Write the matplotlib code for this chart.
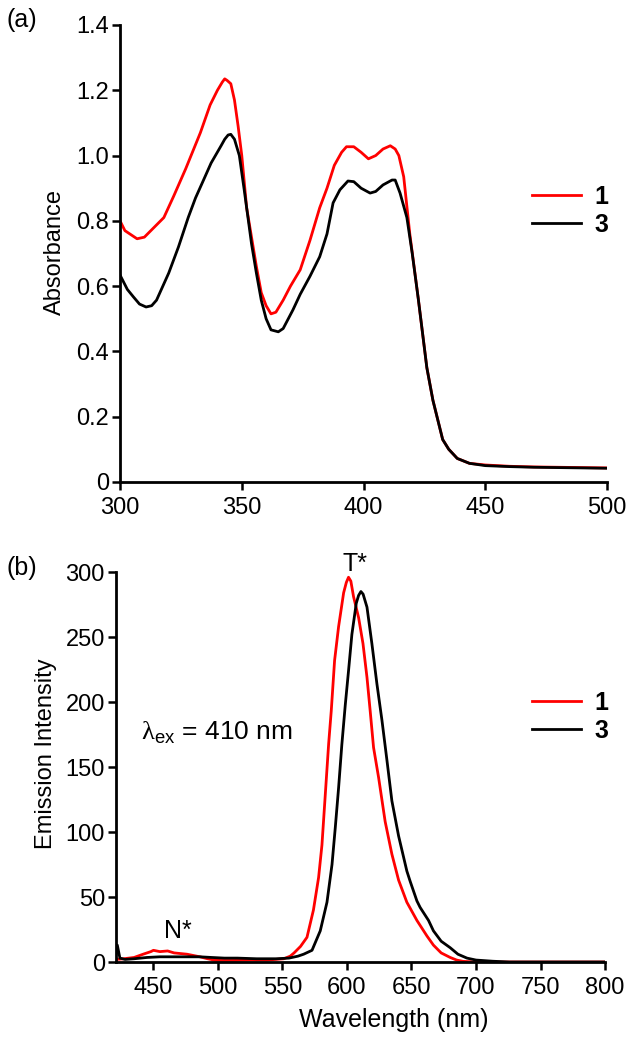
import matplotlib
matplotlib.use("Agg")
import matplotlib.pyplot as plt
from matplotlib.ticker import FuncFormatter

plt.rcParams['font.family'] = ['Liberation Sans', 'DejaVu Sans']
plt.rcParams['mathtext.fontset'] = 'custom'
plt.rcParams['mathtext.rm'] = 'Liberation Serif'
plt.rcParams['mathtext.sf'] = 'Liberation Sans'

# (a) absorption spectra
abs_wl_1 = [300, 302, 305, 307, 310, 314, 318, 322, 327, 333, 337, 340, 342, 343, 344,
            345.5, 347, 348.5, 350, 352, 354, 356, 358, 360, 362, 364, 367, 370, 374, 378,
            382, 385, 388, 391, 393, 396, 399, 402, 405, 408, 411, 413, 414.5, 416.5, 419,
            422.5, 426, 428.5, 432.5, 435, 438.5, 443.5, 450, 460, 470, 480, 490, 500]
abs_1 = [0.80, 0.77, 0.755, 0.745, 0.75, 0.78, 0.81, 0.875, 0.96, 1.07, 1.155, 1.20, 1.225,
         1.235, 1.23, 1.22, 1.17, 1.09, 1.00, 0.84, 0.75, 0.66, 0.58, 0.54, 0.515, 0.52,
         0.557, 0.60, 0.65, 0.74, 0.84, 0.90, 0.97, 1.01, 1.027, 1.027, 1.01, 0.99, 1.00,
         1.02, 1.03, 1.02, 1.00, 0.935, 0.76, 0.56, 0.35, 0.25, 0.13, 0.10, 0.072, 0.057,
         0.052, 0.048, 0.046, 0.045, 0.044, 0.043]

abs_wl_3 = [300, 303, 305.5, 308, 310.7, 313, 315, 320, 324, 328, 331, 334, 337.4, 341.5,
            343, 344.4, 345.5, 347, 349, 351, 354, 356, 358, 360, 362, 365, 367, 371, 374,
            378, 382, 385, 387.5, 390.3, 393.6, 396, 399, 402.7, 405, 408, 411.7, 413, 415,
            417.8, 420, 422.5, 426, 428.5, 432.5, 435, 438.5, 443.5, 450, 460, 470, 480,
            490, 500]
abs_3 = [0.634, 0.59, 0.567, 0.545, 0.536, 0.54, 0.557, 0.64, 0.72, 0.81, 0.87, 0.92, 0.977,
         1.03, 1.05, 1.063, 1.065, 1.05, 1.00, 0.895, 0.73, 0.64, 0.557, 0.50, 0.466, 0.46,
         0.47, 0.527, 0.575, 0.63, 0.69, 0.76, 0.855, 0.895, 0.922, 0.92, 0.90, 0.885, 0.89,
         0.91, 0.925, 0.925, 0.885, 0.81, 0.70, 0.56, 0.35, 0.25, 0.13, 0.10, 0.072, 0.057,
         0.050, 0.047, 0.045, 0.044, 0.043, 0.042]

# (b) emission spectra
em_wl_1 = [421, 427, 435, 442, 448, 450, 455, 461, 466, 471, 476, 481, 486, 492, 497, 502,
           512, 525, 538, 551, 556, 559, 562, 564, 569, 574, 578, 580.6, 583.2, 585.8,
           587.8, 590.4, 593.5, 597.4, 599.5, 601.2, 603, 605.1, 609, 612.4, 615.5, 618,
           620.6, 624.5, 629.6, 634.8, 640, 646.4, 654.2, 662, 667, 673, 680, 685, 690,
           700, 720, 760, 800]
em_1 = [2, 2.5, 3.5, 6, 8, 9, 8, 8.5, 7, 6.5, 6, 5, 4, 2.5, 1.5, 1.2, 1.2, 1.5, 1.5, 2.5,
        4.5, 7, 10, 12, 19, 40, 65, 90, 129, 168, 193, 232, 258, 284, 292, 296, 293, 281,
        265, 245, 219, 193, 165, 142, 108, 83, 63, 46, 32, 20, 13, 7, 3.5, 1.5, 0.5, 0,
        0, 0, 0]

em_wl_3 = [421, 422, 424, 428, 435, 445, 455, 465, 475, 486, 495, 505, 515, 530, 545, 555,
           562, 566.4, 572.9, 579.3, 584.5, 588.4, 590.9, 593.5, 596, 598.7, 601.2, 603.8,
           607.2, 609, 610.8, 612.5, 615.5, 619.3, 623.2, 627.1, 631, 634.8, 640, 646.4,
           649, 654.2, 656.7, 663.2, 667, 673, 680, 686, 693, 700, 713, 726, 760, 800]
em_3 = [6, 13, 3, 2, 2.5, 3.5, 4, 4, 4, 4, 3.5, 3, 3, 2.5, 2.5, 3, 4.5, 6, 9, 24, 46, 75,
        103, 134, 167, 198, 224, 252, 276, 282, 285, 283, 273, 245, 214, 186, 155, 124,
        97, 70, 62, 47, 42, 32, 24, 16, 11, 6, 3, 1.5, 0.6, 0, 0, 0]

labels = ['1', '3']
colors = ['#ff0000', '#000000']


def style_axes(ax):
    for s in ['top', 'right']:
        ax.spines[s].set_visible(False)
    for s in ['left', 'bottom']:
        ax.spines[s].set_linewidth(2.0)
    ax.tick_params(direction='out', length=6, width=1.8, labelsize=17)
    ax.tick_params(axis='x', pad=5)
    ax.tick_params(axis='y', pad=2)


fig = plt.figure(figsize=(6.33, 10.5), dpi=100)

ax1 = fig.add_axes([0.1896, 0.541, 0.7694, 0.4352])
ax1.plot(abs_wl_1, abs_1, color=colors[0], lw=2.0, label=labels[0])
ax1.plot(abs_wl_3, abs_3, color=colors[1], lw=2.0, label=labels[1])
ax1.set_xlim(300, 500)
ax1.set_ylim(0, 1.4)
ax1.set_xticks([300, 350, 400, 450, 500])
ax1.set_yticks([0, 0.2, 0.4, 0.6, 0.8, 1.0, 1.2, 1.4])
ax1.yaxis.set_major_formatter(FuncFormatter(lambda v, p: '0' if v == 0 else '%.1f' % v))
ax1.set_ylabel('Absorbance', fontsize=17)
ax1.yaxis.set_label_coords(-0.112, 0.503)
style_axes(ax1)
ax1.legend(loc='upper left', bbox_to_anchor=(0.846, 0.65), frameon=False,
           prop={'size': 18, 'weight': 'bold'}, handlelength=1.95, handletextpad=0.55,
           labelspacing=0.15, borderpad=0, borderaxespad=0)

ax2 = fig.add_axes([0.1833, 0.0838, 0.7725, 0.3714])
ax2.plot(em_wl_1, em_1, color=colors[0], lw=2.0, label=labels[0])
ax2.plot(em_wl_3, em_3, color=colors[1], lw=2.0, label=labels[1])
ax2.set_xlim(421, 800)
ax2.set_ylim(0, 300)
ax2.set_xticks([450, 500, 550, 600, 650, 700, 750, 800])
ax2.set_yticks([0, 50, 100, 150, 200, 250, 300])
ax2.set_xlabel('Wavelength (nm)', fontsize=18)
ax2.xaxis.set_label_coords(0.568, -0.118)
ax2.set_ylabel('Emission Intensity', fontsize=17)
ax2.yaxis.set_label_coords(-0.12, 0.533)
style_axes(ax2)
ax2.legend(loc='upper left', bbox_to_anchor=(0.851, 0.695), frameon=False,
           prop={'size': 18, 'weight': 'bold'}, handlelength=1.95, handletextpad=0.55,
           labelspacing=0.15, borderpad=0, borderaxespad=0)

ax2.text(606, 301, 'T*', fontsize=18, ha='center', va='baseline', clip_on=False)
ax2.text(469, 18.5, 'N*', fontsize=18, ha='center', va='baseline')
ax2.text(440, 171, r'$\mathrm{\lambda}_{\mathsf{ex}}$ = 410 nm', fontsize=19,
         ha='left', va='baseline')

fig.text(0.01, 0.992, '(a)', fontsize=18, ha='left', va='top')
fig.text(0.01, 0.47, '(b)', fontsize=18, ha='left', va='top')

fig.savefig('out.png', dpi=100)
